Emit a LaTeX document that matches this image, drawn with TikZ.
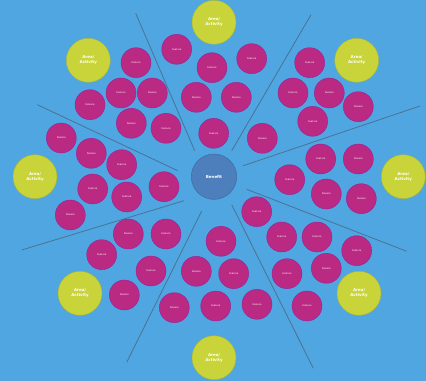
\documentclass[tikz,border=0pt]{standalone}
\usepackage{amsmath}
\usepackage{amssymb}
\usepackage{fontspec}
\setsansfont{DejaVu Sans}
\usepackage{tikz}

\definecolor{bgblue}{HTML}{4FA6E1}
\definecolor{areagreen}{HTML}{C9D43B}
\definecolor{featpink}{HTML}{BA2A82}
\definecolor{benblue}{HTML}{4D7FBD}
\definecolor{seplines}{HTML}{4A7394}

\tikzset{
  area/.style={circle,fill=areagreen,draw=areagreen!85!black,line width=0.3pt,minimum size=33pt,inner sep=0pt,align=center,text=white,font=\sffamily\bfseries\fontsize{3}{3.6}\selectfont},
  feat/.style={circle,fill=featpink,draw=featpink!80!blue,line width=0.3pt,minimum size=22.5pt,inner sep=0pt,text=white,font=\sffamily\fontsize{1.8}{2}\selectfont},
  benefit/.style={circle,fill=benblue,draw=benblue!85!black,line width=0.4pt,minimum size=34pt,inner sep=0pt,text=white,font=\sffamily\bfseries\fontsize{3}{3.6}\selectfont},
  sepline/.style={draw=seplines,line width=0.6pt}
}

\begin{document}
\begin{tikzpicture}[x=0.75pt,y=0.75pt,yscale=-1,xscale=1]
%set diagram size to 426 x 381
\fill[bgblue] (0,0) rectangle (426,381);
\useasboundingbox (0,0) rectangle (426,381);

%Separator Lines
\draw[sepline] (135.7,13.3) -- (194.7,150.7) ;
\draw[sepline] (311,14.7) -- (231.7,150.7) ;
\draw[sepline] (37.3,104.7) -- (177.7,170.7) ;
\draw[sepline] (420,106) -- (243.3,165.7) ;
\draw[sepline] (21.7,250) -- (184,200.7) ;
\draw[sepline] (406.7,251.3) -- (246.7,189.3) ;
\draw[sepline] (126.7,362.3) -- (201.7,211) ;
\draw[sepline] (313.3,368.3) -- (231.7,204.7) ;

%Centre
\node[benefit] (benefit) at (214,176.7) {Benefit};

%Areas
\node[area] (areaN) at (214,22.3) {Area/\\Activity};
\node[area] (areaNW) at (88.3,60.3) {Area/\\Activity};
\node[area] (areaNE) at (356.7,60.3) {Area/\\Activity};
\node[area] (areaW) at (35,176.7) {Area/\\Activity};
\node[area] (areaE) at (403.3,176.7) {Area/\\Activity};
\node[area] (areaSW) at (80,293.3) {Area/\\Activity};
\node[area] (areaSE) at (359,293.3) {Area/\\Activity};
\node[area] (areaS) at (214,357.7) {Area/\\Activity};

%Features, top
\node[feat] (fN1) at (176.7,49.3) {Feature};
\node[feat] (fN2) at (212,67.7) {Feature};
\node[feat] (fN3) at (251.7,58.7) {Feature};
\node[feat] (fN4) at (196.3,97.3) {Feature};
\node[feat] (fN5) at (236.3,97.3) {Feature};
\node[feat] (fN6) at (213.7,133.3) {Feature};
%Features, top left
\node[feat] (fNW1) at (136,62.7) {Feature};
\node[feat] (fNW2) at (121,93) {Feature};
\node[feat] (fNW3) at (152.3,93) {Feature};
\node[feat] (fNW4) at (90,104.7) {Feature};
\node[feat] (fNW5) at (131.3,123.3) {Feature};
\node[feat] (fNW6) at (166,128.3) {Feature};
%Features, top right
\node[feat] (fNE1) at (309.7,62.7) {Feature};
\node[feat] (fNE2) at (293,93) {Feature};
\node[feat] (fNE3) at (329.3,93) {Feature};
\node[feat] (fNE4) at (358.3,106.7) {Feature};
\node[feat] (fNE5) at (312.7,121.3) {Feature};
\node[feat] (fNE6) at (262.3,138.3) {Feature};
%Features, left
\node[feat] (fW1) at (61.3,138) {Feature};
\node[feat] (fW2) at (91.3,153.3) {Feature};
\node[feat] (fW3) at (121.7,164.7) {Feature};
\node[feat] (fW4) at (92.7,189) {Feature};
\node[feat] (fW5) at (126.7,197) {Feature};
\node[feat] (fW6) at (164,186.7) {Feature};
\node[feat] (fW7) at (70.3,215) {Feature};
%Features, right
\node[feat] (fE1) at (320.7,159) {Feature};
\node[feat] (fE2) at (358.3,159) {Feature};
\node[feat] (fE3) at (289.7,179.7) {Feature};
\node[feat] (fE4) at (326.3,194) {Feature};
\node[feat] (fE5) at (361.3,198.7) {Feature};
\node[feat] (fE6) at (256.7,211.7) {Feature};
%Features, bottom left
\node[feat] (fSW1) at (128.3,234) {Feature};
\node[feat] (fSW2) at (166,234) {Feature};
\node[feat] (fSW3) at (101.7,254.7) {Feature};
\node[feat] (fSW4) at (151,271) {Feature};
\node[feat] (fSW5) at (124.3,295) {Feature};
%Features, bottom
\node[feat] (fS1) at (221,241.3) {Feature};
\node[feat] (fS2) at (196.3,271.3) {Feature};
\node[feat] (fS3) at (233.7,273.7) {Feature};
\node[feat] (fS4) at (174.3,307.7) {Feature};
\node[feat] (fS5) at (215.7,306) {Feature};
\node[feat] (fS6) at (257,304.3) {Feature};
%Features, bottom right
\node[feat] (fSE1) at (281.7,237) {Feature};
\node[feat] (fSE2) at (317,237) {Feature};
\node[feat] (fSE3) at (356.7,250.7) {Feature};
\node[feat] (fSE4) at (287,273.7) {Feature};
\node[feat] (fSE5) at (326.3,268.3) {Feature};
\node[feat] (fSE6) at (307,306) {Feature};

\end{tikzpicture}
\end{document}
